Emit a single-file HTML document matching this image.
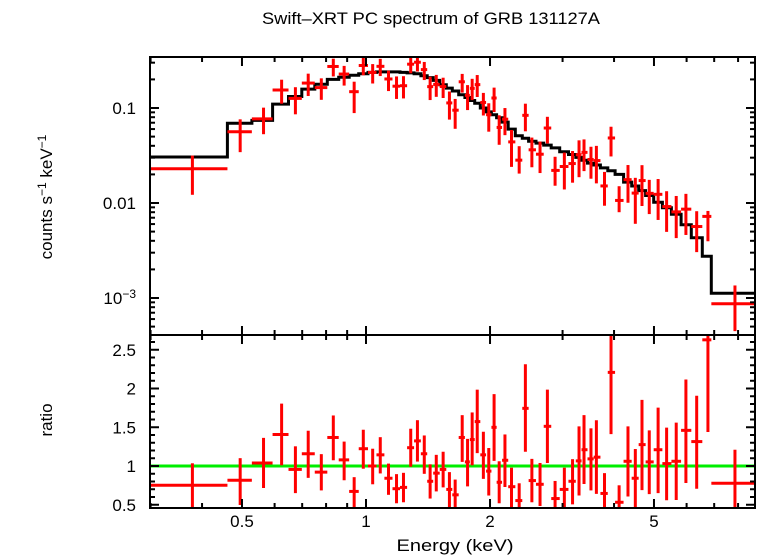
<!DOCTYPE html>
<html><head><meta charset="utf-8">
<style>
body{margin:0;background:#fff;}
svg{display:block;font-family:"Liberation Sans",sans-serif;}
</style></head>
<body>
<svg id="chart" width="758" height="556" viewBox="0 0 758 556" xmlns="http://www.w3.org/2000/svg">
<defs>
<clipPath id="cTop"><rect x="150" y="57" width="605" height="278"/></clipPath>
<clipPath id="cBot"><rect x="150" y="335" width="605" height="173"/></clipPath>
</defs>
<text x="431" y="24" font-size="17" text-anchor="middle" textLength="338" lengthAdjust="spacingAndGlyphs">Swift–XRT PC spectrum of GRB 131127A</text>
<text transform="translate(52,197) rotate(-90)" font-size="17" text-anchor="middle">counts s<tspan font-size="12" dy="-6">−1</tspan><tspan dy="6"> keV</tspan><tspan font-size="12" dy="-6">−1</tspan></text>
<text transform="translate(52,420) rotate(-90)" font-size="17" text-anchor="middle">ratio</text>
<text x="455" y="551" font-size="17" text-anchor="middle" textLength="117" lengthAdjust="spacingAndGlyphs">Energy (keV)</text>
<g id="gTop" clip-path="url(#cTop)"></g>
<g id="gBot" clip-path="url(#cBot)"></g>
<g id="gAxes"></g>
</svg>
<script>
const energies=[0.379,0.495,0.564,0.624,0.674,0.724,0.779,0.833,0.885,0.936,0.985,1.038,1.083,1.134,1.186,1.233,1.284,1.333,1.385,1.431,1.481,1.539,1.594,1.646,1.712,1.764,1.810,1.862,1.927,1.986,2.046,2.105,2.174,2.255,2.354,2.437,2.527,2.645,2.756,2.877,3.030,3.172,3.289,3.382,3.516,3.624,3.792,3.933,4.115,4.324,4.505,4.676,4.870,5.117,5.366,5.662,5.977,6.348,6.760,7.862];
const model=[0.0305,0.069,0.074,0.11,0.132,0.158,0.178,0.20,0.211,0.221,0.229,0.237,0.24,0.24,0.24,0.237,0.234,0.229,0.219,0.209,0.195,0.176,0.162,0.151,0.138,0.129,0.120,0.112,0.100,0.091,0.085,0.079,0.071,0.060,0.051,0.048,0.0447,0.0427,0.0407,0.038,0.0347,0.0324,0.0302,0.0282,0.0263,0.0251,0.0234,0.0219,0.020,0.0166,0.0151,0.0135,0.012,0.0102,0.0089,0.0076,0.0059,0.0043,0.00275,0.00112];
const ratio=[0.751,0.816,1.039,1.407,0.956,1.158,0.921,1.368,1.079,0.672,1.223,1.0,1.144,0.842,0.707,0.724,1.236,1.324,1.158,0.803,0.908,0.956,0.698,0.628,1.368,1.053,1.341,1.573,1.144,0.934,1.499,0.790,1.074,0.733,0.554,1.744,0.812,0.764,1.512,0.580,0.698,0.803,1.066,1.210,1.092,1.114,0.646,2.208,0.532,1.061,0.842,1.276,1.053,1.210,1.031,1.061,1.460,1.315,2.628,0.777];
const ratioHi=[1.035,1.101,1.363,1.805,1.254,1.455,1.153,1.652,1.315,0.856,1.468,1.223,1.372,1.031,0.895,0.912,1.481,1.591,1.394,1.022,1.144,1.184,0.921,0.825,1.656,1.350,1.691,1.985,1.442,1.232,1.928,1.061,1.407,0.978,0.777,2.313,1.092,1.039,1.985,0.807,0.978,1.088,1.512,1.656,1.486,1.591,0.908,2.9,0.751,1.512,1.219,1.853,1.460,1.753,1.495,1.560,2.116,1.906,3.0,1.210];
const ratioLo=[0.40,0.497,0.716,1.009,0.650,0.847,0.685,1.074,0.816,0.40,0.965,0.764,0.904,0.628,0.519,0.532,0.991,1.057,0.899,0.580,0.672,0.724,0.466,0.40,1.053,0.737,1.009,1.166,0.834,0.619,1.066,0.519,0.729,0.40,0.40,1.184,0.532,0.484,1.039,0.40,0.40,0.505,0.619,0.768,0.685,0.641,0.40,1.411,0.40,0.606,0.40,0.689,0.637,0.650,0.558,0.562,0.781,0.707,1.438,0.40];
const eMin=0.299, eMax=8.8, firstHi=0.461, lastLo=6.89;
const xTicksMajor=[0.5,1,2,5];
const xTickLabels=["0.5","1","2","5"];
const xTicksMinor=[0.3,0.4,0.6,0.7,0.8,0.9,3,4,6,7,8];
const ratioTicks=[0.5,1,1.5,2,2.5];
const ratioTickLabels=["0.5","1","1.5","2","2.5"];

const NS="http://www.w3.org/2000/svg";
const X=e=>366+412*Math.log10(e);
const YT=v=>108-95*(Math.log10(v)+1);
const YB=r=>466-77.5*(r-1);
function mk(parent,tag,attrs){const el=document.createElementNS(NS,tag);for(const k in attrs)el.setAttribute(k,attrs[k]);parent.appendChild(el);return el;}
const gTop=document.getElementById('gTop'),gBot=document.getElementById('gBot'),gAx=document.getElementById('gAxes');
const n=energies.length;
const lo=[],hi=[];
for(let i=0;i<n;i++){
  lo.push(i===0?eMin:(i===n-1?lastLo:Math.sqrt(energies[i-1]*energies[i])));
  hi.push(i===0?firstHi:(i===n-1?eMax:(i===n-2?lastLo:Math.sqrt(energies[i]*energies[i+1]))));
}
lo[1]=firstHi;
let d="";
for(let i=0;i<n;i++){
  const y=YT(model[i]).toFixed(1);
  d+=(i===0?"M":"L")+X(lo[i]).toFixed(1)+","+y+"L"+X(hi[i]).toFixed(1)+","+y;
}
const mp=mk(gTop,'path',{d:d,fill:'none',stroke:'#000','stroke-width':3});


const gl=mk(gBot,'line',{x1:150,x2:755,y1:YB(1),y2:YB(1),stroke:'#00ee00','stroke-width':3});


for(let i=0;i<n;i++){
  const xl=X(lo[i]),xh=X(hi[i]),xc=X(energies[i]);
  const dv=model[i]*ratio[i];
  const g1=mk(gTop,'g',{stroke:'#ff0000','stroke-width':3});
  
  
  mk(g1,'line',{x1:xl,x2:xh,y1:YT(dv),y2:YT(dv)});
  mk(g1,'line',{x1:xc,x2:xc,y1:YT(model[i]*ratioHi[i]),y2:YT(model[i]*ratioLo[i])});
  const g2=mk(gBot,'g',{stroke:'#ff0000','stroke-width':3});
  
  
  mk(g2,'line',{x1:xl,x2:xh,y1:YB(ratio[i]),y2:YB(ratio[i])});
  mk(g2,'line',{x1:xc,x2:xc,y1:YB(ratioHi[i]),y2:YB(ratioLo[i])});
}
const f1=mk(gAx,'rect',{x:150,y:57,width:605,height:278,fill:'none',stroke:'#000','stroke-width':2});


const f2=mk(gAx,'rect',{x:150,y:335,width:605,height:173,fill:'none',stroke:'#000','stroke-width':2});


function tk(x1,y1,x2,y2){mk(gAx,'line',{x1:x1,y1:y1,x2:x2,y2:y2,stroke:'#000','stroke-width':2});}
xTicksMajor.forEach((e,i)=>{const x=X(e);
  tk(x,57,x,66);tk(x,335,x,326);tk(x,335,x,344);tk(x,508,x,499);
  const t=mk(gAx,'text',{x:x,y:527,'font-size':17,'text-anchor':'middle'});t.textContent=xTickLabels[i];
  
  
});
xTicksMinor.forEach(e=>{const x=X(e);tk(x,57,x,62);tk(x,335,x,330);tk(x,335,x,340);tk(x,508,x,503);});
for(let p=-4;p<=0;p++){for(let m=1;m<=9;m++){const v=m*Math.pow(10,p);const y=YT(v);if(y<57||y>335)continue;const L=m===1?9:5;tk(150,y,150+L,y);tk(755,y,755-L,y);}}
[[0.1,"0.1"],[0.01,"0.01"]].forEach(a=>{const t=mk(gAx,'text',{x:136,y:YT(a[0])+6,'font-size':17,'text-anchor':'end'});t.textContent=a[1];
  
  });
const t3=mk(gAx,'text',{x:136,y:YT(0.001)+6,'font-size':17,'text-anchor':'end'});
t3.innerHTML='10<tspan font-size="12" dy="-6">−3</tspan>';


for(let k=5;k<=26;k++){const r=k/10;const y=YB(r);const major=k%5===0;const L=major?9:5;tk(150,y,150+L,y);tk(755,y,755-L,y);}
ratioTicks.forEach((r,i)=>{const t=mk(gAx,'text',{x:136,y:YB(r)+6,'font-size':17,'text-anchor':'end'});t.textContent=ratioTickLabels[i];
  
  });
</script>
</body></html>
